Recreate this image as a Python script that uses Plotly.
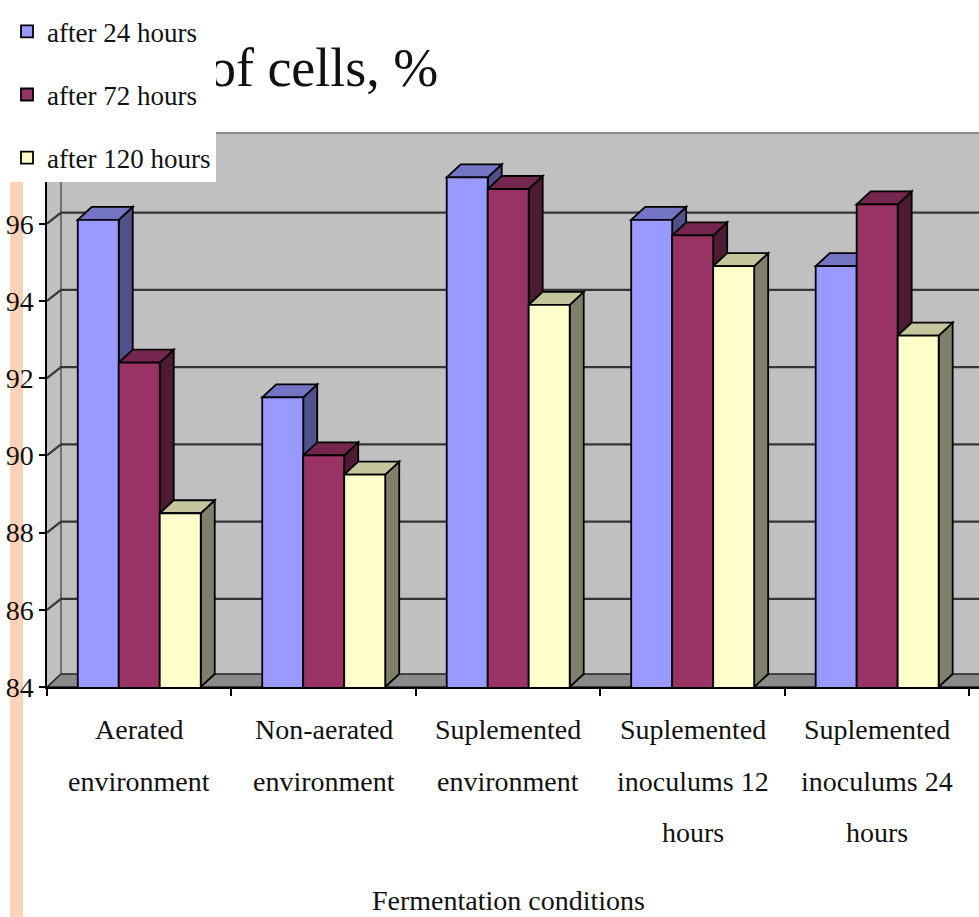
import plotly.graph_objects as go

# ---- data -------------------------------------------------------------
categories = [
    "Aerated<br>environment",
    "Non-aerated<br>environment",
    "Suplemented<br>environment",
    "Suplemented<br>inoculums 12<br>hours",
    "Suplemented<br>inoculums 24<br>hours",
]
series_names = ["after 24 hours", "after 72 hours", "after 120 hours"]
after_24h = [96.1, 91.5, 97.2, 96.1, 94.9]
after_72h = [92.4, 90.0, 96.9, 95.7, 96.5]
after_120h = [88.5, 89.5, 93.9, 94.9, 93.1]
y_ticks = [84, 86, 88, 90, 92, 94, 96]

title_text = "Viability of cells, %"
x_title = "Fermentation conditions"

# ---- styling ----------------------------------------------------------
SERIF = "Liberation Serif, Times New Roman, serif"
front_colors = ["#9999FF", "#993366", "#FFFFCC"]
top_colors = ["#7474C4", "#74264E", "#C6C69E"]
side_colors = ["#50508A", "#4E1A34", "#80806A"]
WALL = "#C0C0C0"
FLOOR = "#8A8A8A"
GRID = "#353535"
EDGE_W = 1.8

W, H = 979, 917
M_L, M_R, M_T, M_B = 47, 0, 133, 230
X_MIN, X_MAX = -0.5, 4.552
Y_MIN, Y_MAX = 84, 98.35
PX_PER_X = (W - M_L - M_R) / (X_MAX - X_MIN)
PX_PER_Y = (H - M_T - M_B) / (Y_MAX - Y_MIN)
DX = 14 / PX_PER_X   # depth offset of the 3-D look, x direction
DY = 13 / PX_PER_Y   # depth offset of the 3-D look, y direction
GRID_DY = 11 / PX_PER_Y
BAR_W = 2 / 9        # three bars fill 2/3 of a category


def poly(points):
    return "M " + " L ".join(f"{x},{y}" for x, y in points) + " Z"


def px_to_paper_y(py):
    return (H - M_B - py) / (H - M_T - M_B)


def px_to_paper_x(px):
    return (px - M_L) / (W - M_L - M_R)


series = [after_24h, after_72h, after_120h]
xs = list(range(len(categories)))

fig = go.Figure()
for name, vals, col in zip(series_names, series, front_colors):
    fig.add_trace(go.Bar(
        x=xs, y=vals, name=name, legendgroup=name,
        marker=dict(color=col, line=dict(color="black", width=EDGE_W)),
        hovertemplate="%{y}<extra>" + name + "</extra>",
    ))

shapes = []

# decorative strip at the left edge of the slide
shapes.append(dict(type="rect", xref="paper", yref="paper", layer="below",
                   x0=px_to_paper_x(10), x1=px_to_paper_x(23),
                   y0=px_to_paper_y(917), y1=px_to_paper_y(182),
                   fillcolor="#FDD2B9", line=dict(width=0)))

# chart title (kept under the legend box)
shapes.append(dict(type="rect", xref="paper", yref="paper", layer="above",
                   x0=px_to_paper_x(5), x1=px_to_paper_x(440),
                   y0=px_to_paper_y(84), y1=px_to_paper_y(40),
                   line=dict(width=0), fillcolor="rgba(0,0,0,0)",
                   label=dict(text=title_text, textposition="middle center",
                              font=dict(family=SERIF, size=54, color="#111"))))

# floor
shapes.append(dict(type="path", xref="x", yref="y", layer="below",
                   path=poly([(X_MIN, Y_MIN), (X_MAX + 1, Y_MIN),
                              (X_MAX + 1, Y_MIN + DY), (X_MIN + DX, Y_MIN + DY)]),
                   fillcolor=FLOOR, line=dict(color="#222", width=1.5)))

# wall corner
shapes.append(dict(type="line", xref="x", yref="y", layer="below",
                   x0=X_MIN + DX, x1=X_MIN + DX, y0=Y_MIN + DY, y1=Y_MAX,
                   line=dict(color="#555", width=1.5)))

# gridlines on the side and back walls
for v in y_ticks[1:]:
    shapes.append(dict(type="path", xref="x", yref="y", layer="below",
                       path=f"M {X_MIN},{v} L {X_MIN + DX},{v + GRID_DY} L {X_MAX + 1},{v + GRID_DY}",
                       line=dict(color=GRID, width=2.2)))

# top edge of the back wall
shapes.append(dict(type="line", xref="paper", yref="paper", layer="below",
                   x0=px_to_paper_x(61), x1=1.0, y0=1.0, y1=1.0,
                   line=dict(color="#8C8C8C", width=2)))

# side and top faces of each bar, left to right
for i in xs:
    for j, vals in enumerate(series):
        x0 = i - 1 / 3 + j * BAR_W
        x1 = x0 + BAR_W
        t = vals[i]
        shapes.append(dict(type="path", xref="x", yref="y", layer="below",
                           path=poly([(x1, Y_MIN), (x1, t), (x1 + DX, t + DY), (x1 + DX, Y_MIN + DY)]),
                           fillcolor=side_colors[j], line=dict(color="black", width=EDGE_W)))
        shapes.append(dict(type="path", xref="x", yref="y", layer="below",
                           path=poly([(x0, t), (x1, t), (x1 + DX, t + DY), (x0 + DX, t + DY)]),
                           fillcolor=top_colors[j], line=dict(color="black", width=EDGE_W)))

# category labels, one annotation per text line
annotations = []
line_y = [px_to_paper_y(729), px_to_paper_y(781), px_to_paper_y(832)]
for i, label in enumerate(categories):
    for k, line in enumerate(label.split("<br>")):
        annotations.append(dict(x=i, xref="x", y=line_y[k], yref="paper",
                                text=line, showarrow=False, yanchor="middle",
                                font=dict(family=SERIF, size=28, color="#111")))
annotations.append(dict(x=2, xref="x", y=px_to_paper_y(900), yref="paper",
                        text=x_title, showarrow=False, yanchor="middle",
                        font=dict(family=SERIF, size=28, color="#111")))

fig.update_layout(
    width=W, height=H,
    margin=dict(l=M_L, r=M_R, t=M_T, b=M_B, pad=0, autoexpand=False),
    paper_bgcolor="white", plot_bgcolor=WALL,
    barmode="group", bargap=1 / 3, bargroupgap=0,
    shapes=shapes, annotations=annotations,
    showlegend=True,
    legend=dict(xref="container", yref="container", x=7 / W, y=0.992,
                xanchor="left", yanchor="top", bgcolor="white",
                borderwidth=0, tracegroupgap=25, itemclick=False,
                font=dict(family=SERIF, size=27, color="#111")),
    xaxis=dict(range=[X_MIN, X_MAX], showgrid=False, zeroline=False,
               showline=True, linecolor="black", linewidth=2,
               tickvals=[k - 0.5 for k in range(len(categories) + 1)],
               showticklabels=False, ticks="outside", ticklen=7,
               tickcolor="black", tickwidth=1.5, fixedrange=True),
    yaxis=dict(range=[Y_MIN, Y_MAX], showgrid=False, zeroline=False,
               showline=True, linecolor="black", linewidth=1.5,
               tickvals=y_ticks, ticks="outside", ticklen=6,
               tickcolor="black", tickwidth=1.5,
               tickfont=dict(family=SERIF, size=28, color="#111"),
               fixedrange=True),
)

fig.write_html("out.html")
